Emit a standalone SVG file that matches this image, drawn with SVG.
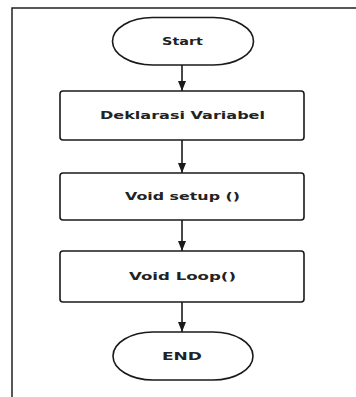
<svg xmlns="http://www.w3.org/2000/svg" width="356" height="397" viewBox="0 0 356 397">
<defs>
<style>
.shape{fill:#fff;stroke:#1a1a1a;stroke-width:1.6}
.lbl{font-family:"DejaVu Sans","Liberation Sans",sans-serif;font-weight:bold;font-size:10px;fill:#222;text-anchor:middle;dominant-baseline:central}
.conn{stroke:#1a1a1a;stroke-width:1.6;fill:none}
.frame{stroke:#222;stroke-width:1.5;fill:none}
</style>
<marker id="ah" viewBox="0 0 10 8" refX="10" refY="4" markerWidth="10" markerHeight="8" markerUnits="userSpaceOnUse" orient="auto">
<path d="M0,0 L10,4 L0,8 z" fill="#1a1a1a"/>
</marker>
</defs>
<rect width="356" height="397" fill="#fff"/>
<path class="frame" d="M12,397 L12,8 L356,8"/>
<g id="connectors">
<line class="conn" x1="182" y1="65" x2="182" y2="91" marker-end="url(#ah)"/>
<line class="conn" x1="182" y1="140" x2="182" y2="173" marker-end="url(#ah)"/>
<line class="conn" x1="182" y1="220" x2="182" y2="251" marker-end="url(#ah)"/>
<line class="conn" x1="182" y1="302" x2="182" y2="332" marker-end="url(#ah)"/>
</g>
<g id="start">
<rect class="shape" x="112.5" y="17.5" width="141" height="47.5" rx="40" ry="23.75"/>
<text class="lbl" x="182.5" y="41.5" textLength="41" lengthAdjust="spacingAndGlyphs">Start</text>
</g>
<g id="deklarasi">
<rect class="shape" x="60" y="91" width="244" height="49" rx="3"/>
<text class="lbl" x="182.5" y="115.5" textLength="165" lengthAdjust="spacingAndGlyphs">Deklarasi Variabel</text>
</g>
<g id="setup">
<rect class="shape" x="60" y="173" width="244" height="47" rx="3"/>
<text class="lbl" x="182.5" y="196" textLength="115" lengthAdjust="spacingAndGlyphs">Void setup ()</text>
</g>
<g id="loop">
<rect class="shape" x="60" y="251" width="244" height="51" rx="3"/>
<text class="lbl" x="182.5" y="276.5" textLength="107" lengthAdjust="spacingAndGlyphs">Void Loop()</text>
</g>
<g id="end">
<rect class="shape" x="113" y="332" width="140" height="48" rx="40" ry="24"/>
<text class="lbl" x="182" y="356" textLength="40" lengthAdjust="spacingAndGlyphs">END</text>
</g>
</svg>
